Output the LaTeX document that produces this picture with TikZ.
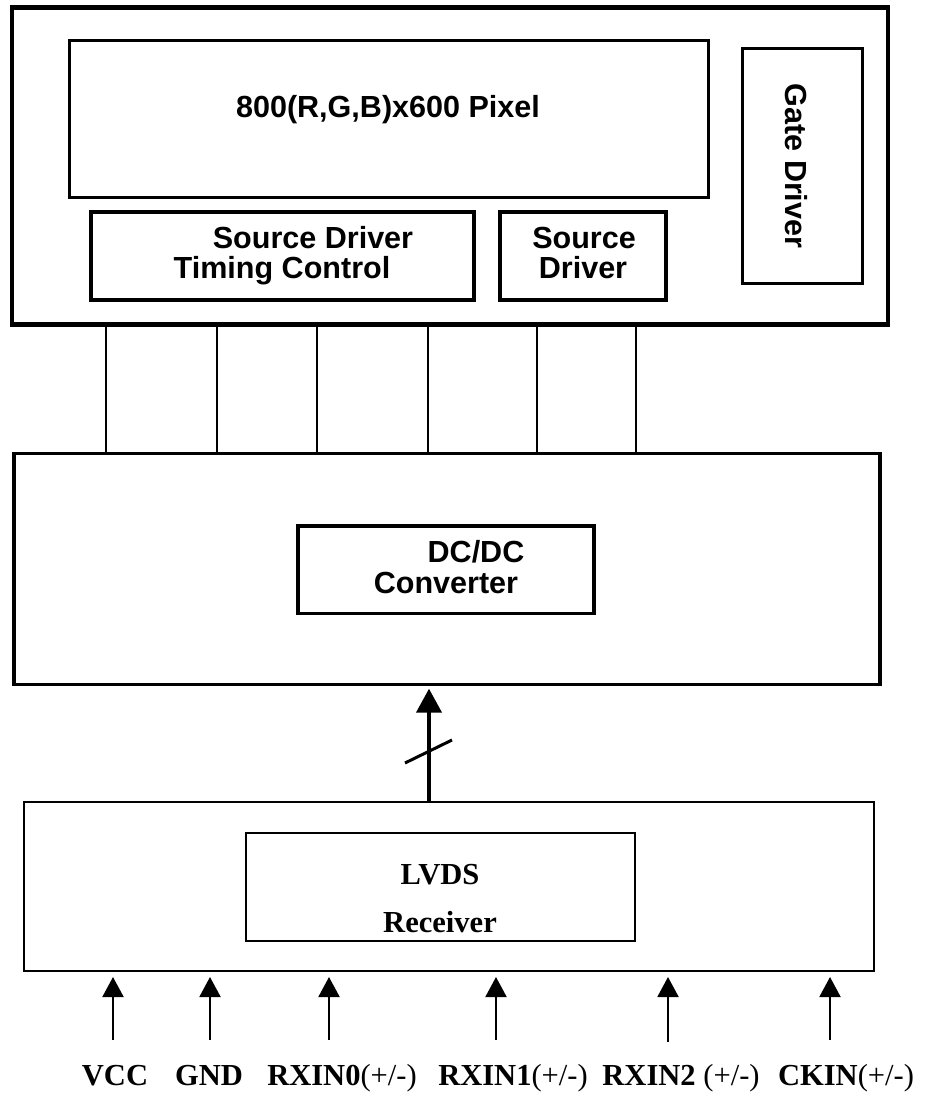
\documentclass[tikz,border=0pt]{standalone}
\usepackage{fontspec}
\setmainfont{Liberation Sans}
\newfontfamily\timesfont{Liberation Serif}
\usetikzlibrary{arrows.meta}

\tikzset{every picture/.style={line width=0.75pt}}
\tikzset{
  blockbox/.style={draw, rectangle, inner sep=0pt, outer sep=0pt},
  sanslbl/.style={inner sep=0pt, font=\fontsize{22.9pt}{27pt}\selectfont\bfseries},
  seriflbl/.style={inner sep=0pt, font=\timesfont\fontsize{22.9pt}{27pt}\selectfont\bfseries},
  wire/.style={line width=2pt},
  bus/.style={line width=2.5pt, -{Triangle[length=18pt,width=19pt]}, shorten >=3pt},
  feed/.style={line width=1.5pt, -{Triangle[length=15pt,width=15.75pt]}, shorten >=4.5pt}
}

\begin{document}
\begin{tikzpicture}[x=0.75pt,y=0.75pt,yscale=-1,xscale=1]
\useasboundingbox (0,0) rectangle (926,1095);

%Shape: Rectangle [panel]
\node [blockbox, line width=3.5pt, minimum width=657pt, minimum height=237.75pt] (panel) at (450,166) {};
%Shape: Rectangle [pixel array]
\node [blockbox, line width=2.25pt, minimum width=479.25pt, minimum height=117pt] (pixel) at (388.5,119) {};
%Shape: Rectangle [gate driver]
\node [blockbox, line width=2.25pt, minimum width=90pt, minimum height=175.5pt] (gate) at (802,166) {};
%Shape: Rectangle [source driver timing control]
\node [blockbox, line width=2.5pt, minimum width=287.25pt, minimum height=66pt] (sdtc) at (282.5,256) {};
%Shape: Rectangle [source driver]
\node [blockbox, line width=2.5pt, minimum width=124.5pt, minimum height=66pt] (src) at (583,256) {};
%Shape: Rectangle [power board]
\node [blockbox, line width=2.5pt, minimum width=649.5pt, minimum height=173.6pt] (power) at (447,569) {};
%Shape: Rectangle [dc/dc]
\node [blockbox, line width=2.5pt, minimum width=222pt, minimum height=65.6pt] (dcdc) at (446,569.7) {};
%Shape: Rectangle [receiver board]
\node [blockbox, line width=1.5pt, minimum width=637.5pt, minimum height=126.75pt] (rx) at (449,886.5) {};
%Shape: Rectangle [lvds receiver]
\node [blockbox, line width=1.5pt, minimum width=291.75pt, minimum height=81pt] (lvds) at (440.3,887) {};

% Text Node
\node [sanslbl, anchor=base] (pixtxt) at (388,118) {800(R,G,B)x600 Pixel};
% Text Node
\node [sanslbl, rotate=-90] (gatetxt) at (796,166) {Gate Driver};
% Text Node
\node [sanslbl, anchor=base] (sdtctxta) at (313,248) {Source Driver};
\node [sanslbl, anchor=base] (sdtctxtb) at (282,278) {Timing Control};
% Text Node
\node [sanslbl, anchor=base] (srctxta) at (584,248) {Source};
\node [sanslbl, anchor=base] (srctxtb) at (583,278) {Driver};
% Text Node
\node [sanslbl, anchor=base] (dctxta) at (476,562) {DC/DC};
\node [sanslbl, anchor=base] (dctxtb) at (446,593) {Converter};
% Text Node
\node [seriflbl, anchor=base] (lvdstxta) at (440,884) {LVDS};
\node [seriflbl, anchor=base] (lvdstxtb) at (440,932) {Receiver};

%Straight Lines [panel to power board]
\coordinate (w1) at (106,400);
\coordinate (w2) at (217,400);
\coordinate (w3) at (317,400);
\coordinate (w4) at (428,400);
\coordinate (w5) at (537,400);
\coordinate (w6) at (636,400);
\draw [wire] (panel.south -| w1) -- (power.north -| w1);
\draw [wire] (panel.south -| w2) -- (power.north -| w2);
\draw [wire] (panel.south -| w3) -- (power.north -| w3);
\draw [wire] (panel.south -| w4) -- (power.north -| w4);
\draw [wire] (panel.south -| w5) -- (power.north -| w5);
\draw [wire] (panel.south -| w6) -- (power.north -| w6);

%Straight Lines [bus with slash]
\coordinate (busmid) at (429,751);
\draw [bus] (rx.north -| busmid) -- (power.south -| busmid);
\draw [line width=2.25pt] (busmid) ++(-24,12) -- ++(47,-23);

% Text Node [inputs]
\node [seriflbl, anchor=base] (vcc) at (115,1085) {VCC};
\node [seriflbl, anchor=base] (gnd) at (209,1085) {GND};
\node [seriflbl, anchor=base] (rxin0) at (342,1085) {RXIN0\textmd{(+/-)}};
\node [seriflbl, anchor=base] (rxin1) at (513,1085) {RXIN1\textmd{(+/-)}};
\node [seriflbl, anchor=base] (rxin2) at (681,1085) {RXIN2 \textmd{(+/-)}};
\node [seriflbl, anchor=base] (ckin) at (846,1085) {CKIN\textmd{(+/-)}};

%Straight Lines [input arrows]
\coordinate (a1) at (113,1040);
\coordinate (a2) at (210,1040);
\coordinate (a3) at (329,1040);
\coordinate (a4) at (496,1040);
\coordinate (a5) at (668,1042);
\coordinate (a6) at (830,1040);
\draw [feed] (a1) -- (a1 |- rx.south);
\draw [feed] (a2) -- (a2 |- rx.south);
\draw [feed] (a3) -- (a3 |- rx.south);
\draw [feed] (a4) -- (a4 |- rx.south);
\draw [feed] (a5) -- (a5 |- rx.south);
\draw [feed] (a6) -- (a6 |- rx.south);

\end{tikzpicture}
\end{document}
